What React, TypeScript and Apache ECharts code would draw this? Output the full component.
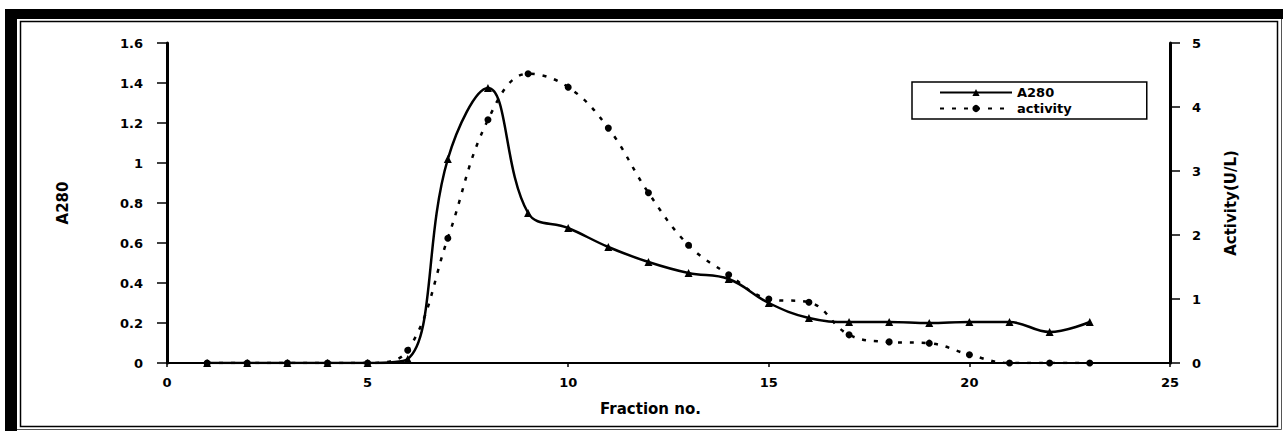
import React, { useEffect, useRef } from "react";
import * as echarts from "echarts";

// Gel-filtration elution profile: absorbance at 280 nm and enzyme activity per fraction
const fractions = [1, 2, 3, 4, 5, 6, 7, 8, 9, 10, 11, 12, 13, 14, 15, 16, 17, 18, 19, 20, 21, 22, 23];
const a280 = [0, 0, 0, 0, 0, 0.02, 1.02, 1.375, 0.75, 0.675, 0.58, 0.505, 0.45, 0.42, 0.3, 0.225, 0.205, 0.205, 0.2, 0.205, 0.205, 0.155, 0.205];
const activity = [0, 0, 0, 0, 0, 0.2, 1.95, 3.8, 4.52, 4.31, 3.67, 2.66, 1.84, 1.38, 1.0, 0.95, 0.44, 0.33, 0.31, 0.13, 0, 0, 0];

const seriesNames = ["A280", "activity"];
const axisNames = { x: "Fraction no.", left: "A280", right: "Activity(U/L)" };

const FONT = "'DejaVu Sans', 'Liberation Sans', Arial, sans-serif";
const W = 1283;
const H = 431;

export default function App() {
  const ref = useRef<HTMLDivElement>(null);

  useEffect(() => {
    document.body.style.margin = "0";
    if (!ref.current) return;
    const chart = echarts.init(ref.current, undefined, { renderer: "svg", width: W, height: H });

    const labelStyle = { color: "#000", fontFamily: FONT, fontWeight: "bold" as const, fontSize: 13 };
    const nameStyle = { color: "#000", fontFamily: FONT, fontWeight: "bold" as const, fontSize: 15 };

    chart.setOption({
      animation: false,
      backgroundColor: "#fff",
      textStyle: { fontFamily: FONT },
      grid: { left: 167, right: W - 1170, top: 43, bottom: H - 363, containLabel: false },
      legend: {
        orient: "vertical",
        left: 912,
        top: 82,
        padding: [4, 75, 4, 27],
        itemWidth: 72,
        itemHeight: 9,
        itemGap: 3,
        borderColor: "#000",
        borderWidth: 1.5,
        borderRadius: 0,
        textStyle: { color: "#000", fontFamily: FONT, fontWeight: "bold", fontSize: 13 },
        data: seriesNames,
      },
      xAxis: {
        type: "value",
        min: 0,
        max: 25,
        interval: 5,
        name: axisNames.x,
        nameLocation: "middle",
        nameGap: 38,
        nameTextStyle: { ...nameStyle, padding: [0, 36, 0, 0] },
        axisLine: { show: true, onZero: false, lineStyle: { color: "#000", width: 2 } },
        axisTick: { show: true, length: 4, lineStyle: { color: "#000", width: 1.5 } },
        axisLabel: { ...labelStyle, margin: 13 },
        splitLine: { show: false },
      },
      yAxis: [
        {
          type: "value",
          position: "left",
          min: 0,
          max: 1.6,
          interval: 0.2,
          name: axisNames.left,
          nameLocation: "middle",
          nameRotate: 90,
          nameGap: 97,
          nameTextStyle: nameStyle,
          axisLine: { show: true, lineStyle: { color: "#000", width: 3 } },
          axisTick: { show: true, length: 10, lineStyle: { color: "#000", width: 1.5 } },
          axisLabel: { ...labelStyle, margin: 24, formatter: (v: number) => String(Number(v.toFixed(1))) },
          splitLine: { show: false },
        },
        {
          type: "value",
          position: "right",
          min: 0,
          max: 5,
          interval: 1,
          name: axisNames.right,
          nameLocation: "middle",
          nameRotate: 90,
          nameGap: 53,
          nameTextStyle: nameStyle,
          axisLine: { show: true, lineStyle: { color: "#000", width: 3 } },
          axisTick: { show: true, length: 10, lineStyle: { color: "#000", width: 1.5 } },
          axisLabel: { ...labelStyle, margin: 22 },
          splitLine: { show: false },
        },
      ],
      series: [
        {
          name: seriesNames[0],
          type: "line",
          yAxisIndex: 0,
          data: fractions.map((f, i) => [f, a280[i]]),
          smooth: 0.4,
          symbol: "triangle",
          symbolSize: 8,
          itemStyle: { color: "#000" },
          lineStyle: { color: "#000", width: 2.5 },
          z: 3,
        },
        {
          name: seriesNames[1],
          type: "line",
          yAxisIndex: 1,
          data: fractions.map((f, i) => [f, activity[i]]),
          smooth: 0.4,
          symbol: "circle",
          symbolSize: 7,
          itemStyle: { color: "#000" },
          lineStyle: { color: "#000", width: 2.5, type: [4, 8] },
          z: 2,
        },
      ],
      graphic: [
        // outer frame: heavy left and top edges, thin right and bottom edges
        { type: "rect", shape: { x: 5.5, y: 9.5, width: 1276, height: 420 }, style: { fill: "none", stroke: "#555", lineWidth: 1 }, silent: true },
        { type: "rect", shape: { x: 5, y: 9, width: 12, height: 422 }, style: { fill: "#000" }, silent: true },
        { type: "rect", shape: { x: 5, y: 9, width: 1278, height: 10 }, style: { fill: "#000" }, silent: true },
        // inner frame line
        { type: "rect", shape: { x: 20.5, y: 21.5, width: 1257, height: 405 }, style: { fill: "none", stroke: "#000", lineWidth: 1.5 }, silent: true },
      ],
    });

    return () => {
      chart.dispose();
    };
  }, []);

  return <div ref={ref} style={{ width: W, height: H }} />;
}
